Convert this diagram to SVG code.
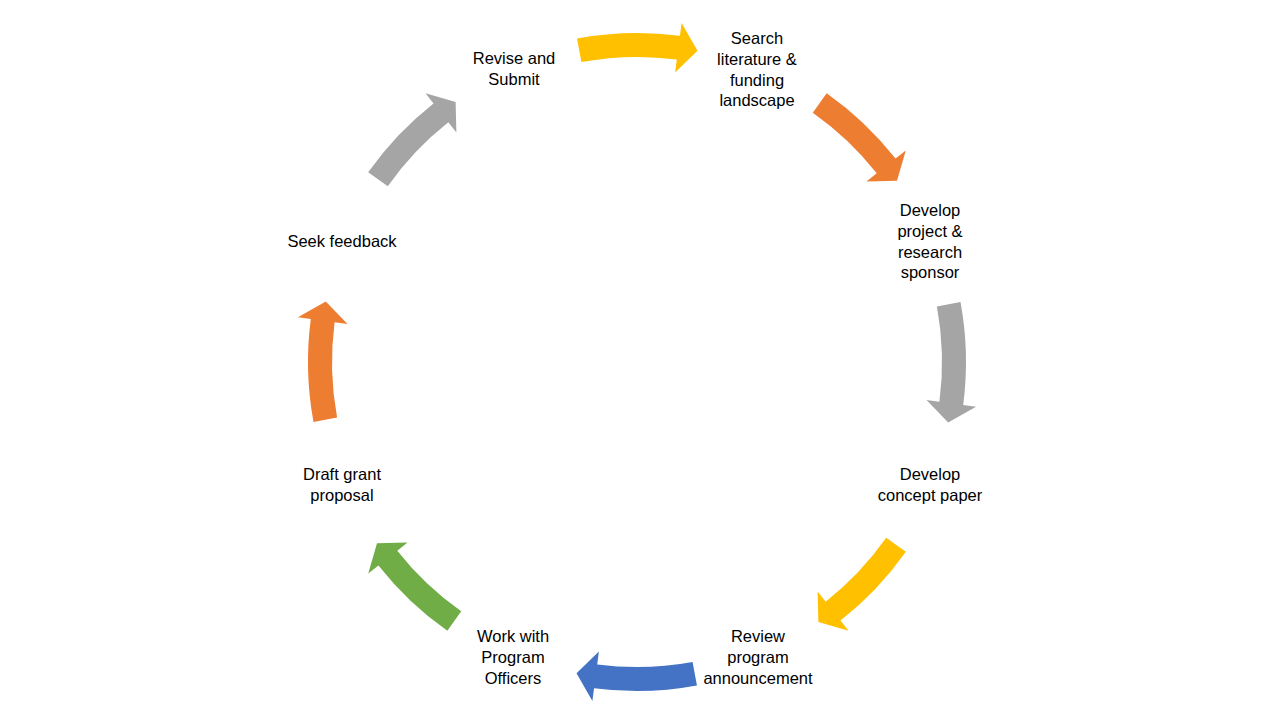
<svg xmlns="http://www.w3.org/2000/svg" xmlns:xlink="http://www.w3.org/1999/xlink" width="1280" height="720" viewBox="0 0 1280 720">
  <style>
    .lbl { font-family: "Liberation Sans", Arial, sans-serif; font-size: 16.5px; fill: #000000; text-anchor: middle; }
  </style>
  <defs>
    <path id="arc" d="M577.05,38.5 A329,329 0 0 1 679.93,35.8 L681.63,22.94 L697.48,50.8 L675.11,72.51 L676.8,59.6 A305,305 0 0 0 581.43,62.1 Z"/>
    <path id="arcd" d="M581.0,37.8 A329,329 0 0 1 675.95,35.3 L677.49,22.4 L692.6,49.9 L671.57,72.0 L673.11,59.1 A305,305 0 0 0 585.1,61.5 Z"/>
  </defs>
  <rect width="1280" height="720" fill="#ffffff"/>
  <g id="connectors">
    <use xlink:href="#arc" href="#arc" fill="#FFC000" transform="rotate(0 637 362)"/>
    <use xlink:href="#arcd" href="#arcd" fill="#ED7D31" transform="rotate(45 637 362)"/>
    <use xlink:href="#arc" href="#arc" fill="#A5A5A5" transform="rotate(90 637 362)"/>
    <use xlink:href="#arcd" href="#arcd" fill="#FFC000" transform="rotate(135 637 362)"/>
    <use xlink:href="#arc" href="#arc" fill="#4472C4" transform="rotate(180 637 362)"/>
    <use xlink:href="#arcd" href="#arcd" fill="#70AD47" transform="rotate(225 637 362)"/>
    <use xlink:href="#arc" href="#arc" fill="#ED7D31" transform="rotate(270 637 362)"/>
    <use xlink:href="#arcd" href="#arcd" fill="#A5A5A5" transform="rotate(315 637 362)"/>
  </g>
  <g id="node-search">
    <text class="lbl" x="757" y="44">Search</text>
    <text class="lbl" x="757" y="64.8">literature &amp;</text>
    <text class="lbl" x="757" y="85.6">funding</text>
    <text class="lbl" x="757" y="106.4">landscape</text>
  </g>
  <g id="node-develop-project">
    <text class="lbl" x="930" y="216">Develop</text>
    <text class="lbl" x="930" y="236.8">project &amp;</text>
    <text class="lbl" x="930" y="257.6">research</text>
    <text class="lbl" x="930" y="278.4">sponsor</text>
  </g>
  <g id="node-concept">
    <text class="lbl" x="930" y="480">Develop</text>
    <text class="lbl" x="930" y="500.8">concept paper</text>
  </g>
  <g id="node-review">
    <text class="lbl" x="758" y="642">Review</text>
    <text class="lbl" x="758" y="662.8">program</text>
    <text class="lbl" x="758" y="683.6">announcement</text>
  </g>
  <g id="node-work">
    <text class="lbl" x="513" y="642">Work with</text>
    <text class="lbl" x="513" y="662.8">Program</text>
    <text class="lbl" x="513" y="683.6">Officers</text>
  </g>
  <g id="node-draft">
    <text class="lbl" x="342" y="480">Draft grant</text>
    <text class="lbl" x="342" y="500.8">proposal</text>
  </g>
  <g id="node-seek">
    <text class="lbl" x="342" y="247">Seek feedback</text>
  </g>
  <g id="node-revise">
    <text class="lbl" x="514" y="64">Revise and</text>
    <text class="lbl" x="514" y="84.8">Submit</text>
  </g>
</svg>
